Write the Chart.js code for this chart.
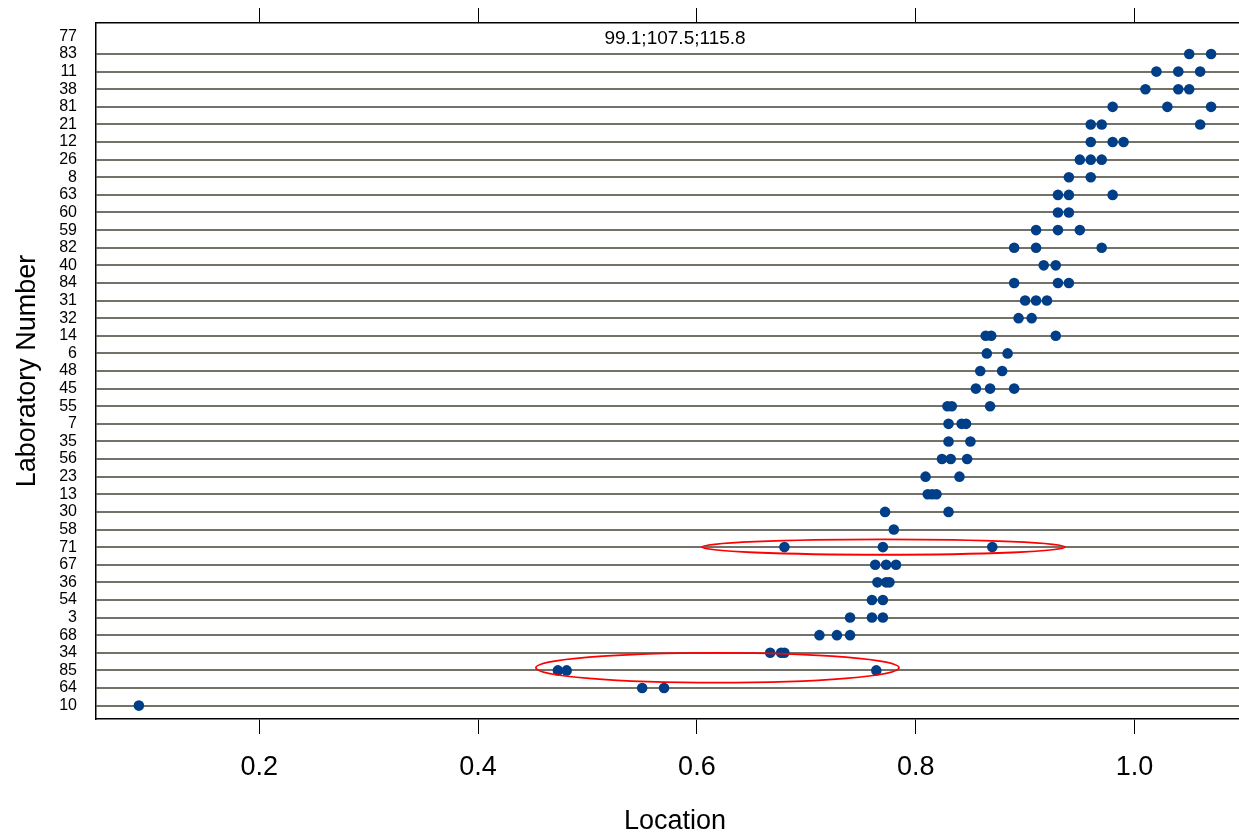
<!DOCTYPE html>
<html>
<head>
<meta charset="utf-8">
<script src="https://cdn.jsdelivr.net/npm/chart.js@4/dist/chart.umd.min.js"></script>
<style>
  html, body { margin: 0; padding: 0; background: #fff; overflow: hidden; }
  #wrap { width: 1254px; height: 835px; }
</style>
</head>
<body>
<div id="wrap"><canvas id="c" width="1254" height="835"></canvas></div>
<script>
// Laboratory numbers, top to bottom
const labs = ['77','83','11','38','81','21','12','26','8','63','60','59','82','40','84','31','32','14','6','48','45','55','7','35','56','23','13','30','58','71','67','36','54','3','68','34','85','64','10'];
// Replicate values per laboratory (null = no value)
const rep1 = [99.1,1.05,1.02,1.01,0.98,0.96,0.96,0.95,0.94,0.93,0.93,0.91,0.89,0.917,0.89,0.90,0.894,0.864,0.865,0.859,0.855,0.829,0.830,0.830,0.824,0.809,0.811,0.772,0.780,0.680,0.763,0.765,0.760,0.740,0.712,0.667,0.473,0.550,0.090];
const rep2 = [107.5,1.07,1.04,1.04,1.03,0.97,0.98,0.96,0.96,0.94,0.94,0.93,0.91,0.928,0.93,0.91,0.906,0.869,0.884,0.879,0.868,0.833,0.842,0.850,0.832,0.840,0.815,0.830,null,0.770,0.773,0.773,0.770,0.760,0.728,0.677,0.481,0.570,null];
const rep3 = [115.8,null,1.06,1.05,1.07,1.06,0.99,0.97,null,0.98,null,0.95,0.97,null,0.94,0.92,null,0.928,null,null,0.890,0.868,0.846,null,0.847,null,0.819,null,null,0.870,0.782,0.776,null,0.770,0.740,0.680,0.764,null,null];
// x-axis tick values
const xTicks = [0.2, 0.4, 0.6, 0.8, 1.0];
const xMin = 0.0508, xMax = 1.1092;
// Highlight ellipses (data units): lab, centre, half-width, half-height (rows), vertical shift (rows)
const ellipseLabs = ['71', '85'];
const ellipseCx = [0.7706, 0.6188];
const ellipseRx = [0.166, 0.166];
const ellipseRy = [0.434, 0.85];
const ellipseDy = [0, -0.15];

const FONT = "'Liberation Sans', Arial, Helvetica, sans-serif";
Chart.defaults.font.family = FONT;
Chart.defaults.color = '#000';

const points = [];
const offScale = [];
labs.forEach((lab, i) => {
  [rep1[i], rep2[i], rep3[i]].forEach(v => {
    if (v === null || v === undefined) return;
    if (v > xMax || v < xMin) offScale.push({ i, v });
    else points.push({ x: v, y: i });
  });
});
const rowsWithPoints = new Set(points.map(p => p.y));

const annotatePlugin = {
  id: 'annot',
  afterDatasetsDraw(chart) {
    const { ctx, chartArea, scales } = chart;
    const xs = scales.x, ys = scales.y;
    ctx.save();
    ctx.strokeStyle = '#ff0000';
    ctx.lineWidth = 1.8;
    ellipseLabs.forEach((lab, k) => {
      const idx = labs.indexOf(lab);
      const cx = xs.getPixelForValue(ellipseCx[k]);
      const rx = Math.abs(xs.getPixelForValue(ellipseCx[k] + ellipseRx[k]) - cx);
      const cy = ys.getPixelForValue(idx + ellipseDy[k]);
      const ry = Math.abs(ys.getPixelForValue(idx + ellipseDy[k] + ellipseRy[k]) - cy);
      ctx.beginPath();
      ctx.ellipse(cx, cy, rx, ry, 0, 0, Math.PI * 2);
      ctx.stroke();
    });
    const groups = {};
    offScale.forEach(o => { (groups[o.i] = groups[o.i] || []).push(o.v); });
    ctx.fillStyle = '#000';
    ctx.font = '19px ' + FONT;
    ctx.textAlign = 'center';
    ctx.textBaseline = 'middle';
    Object.keys(groups).forEach(i => {
      const txt = groups[i].map(v => v.toFixed(1)).join(';');
      ctx.fillText(txt, (chartArea.left + chartArea.right) / 2, ys.getPixelForValue(+i) + 2.5);
    });
    ctx.restore();
  }
};

function noPad(s) { s.paddingTop = 0; s.paddingBottom = 0; s.paddingLeft = 0; s.paddingRight = 0; }

new Chart(document.getElementById('c'), {
  type: 'scatter',
  data: {
    datasets: [{
      data: points,
      pointRadius: 5.3,
      pointHoverRadius: 5.3,
      pointBackgroundColor: '#003f87',
      pointBorderWidth: 0,
      borderWidth: 0,
      showLine: false
    }]
  },
  options: {
    responsive: false,
    animation: false,
    events: [],
    devicePixelRatio: 1,
    layout: { autoPadding: false, padding: { top: 8, left: 0, right: 0, bottom: 0 } },
    plugins: { legend: { display: false }, tooltip: { enabled: false } },
    scales: {
      x: {
        type: 'linear', position: 'bottom', min: xMin, max: xMax,
        afterBuildTicks: s => { s.ticks = xTicks.map(v => ({ value: v })); },
        afterFit: s => { s.height = 116; noPad(s); },
        ticks: { callback: v => v.toFixed(1), font: { size: 27 }, padding: 17, maxRotation: 0, autoSkip: false, color: '#000' },
        grid: { drawOnChartArea: false, drawTicks: true, tickLength: 15, color: '#000', tickWidth: 1 },
        border: { display: true, color: '#000', width: 1.5 },
        title: { display: true, text: 'Location', font: { size: 27, lineHeight: 1 }, padding: 0, color: '#000' }
      },
      x2: {
        type: 'linear', position: 'top', min: xMin, max: xMax,
        afterBuildTicks: s => { s.ticks = xTicks.map(v => ({ value: v })); },
        afterFit: s => { s.height = 15; noPad(s); },
        ticks: { display: false },
        grid: { drawOnChartArea: false, drawTicks: true, tickLength: 15, color: '#000', tickWidth: 1 },
        border: { display: true, color: '#000', width: 1.5 }
      },
      y: {
        type: 'linear', position: 'left', reverse: true,
        min: -0.76, max: labs.length - 1 + 0.76,
        afterBuildTicks: s => { s.ticks = labs.map((l, i) => ({ value: i })); },
        afterFit: s => { s.width = 96; noPad(s); },
        ticks: { callback: (v) => labs[v], font: { size: 16 }, padding: 19, autoSkip: false, color: '#000' },
        grid: {
          drawOnChartArea: true, drawTicks: false, lineWidth: 2,
          color: ctx => (ctx.tick && !rowsWithPoints.has(ctx.tick.value)) ? 'rgba(0,0,0,0)' : '#72726a'
        },
        border: { display: true, color: '#000', width: 1.5 },
        title: { display: true, text: 'Laboratory Number', font: { size: 27, lineHeight: 1 }, padding: { top: 14, bottom: 0 }, color: '#000' }
      }
    }
  },
  plugins: [annotatePlugin]
});
</script>
</body>
</html>
